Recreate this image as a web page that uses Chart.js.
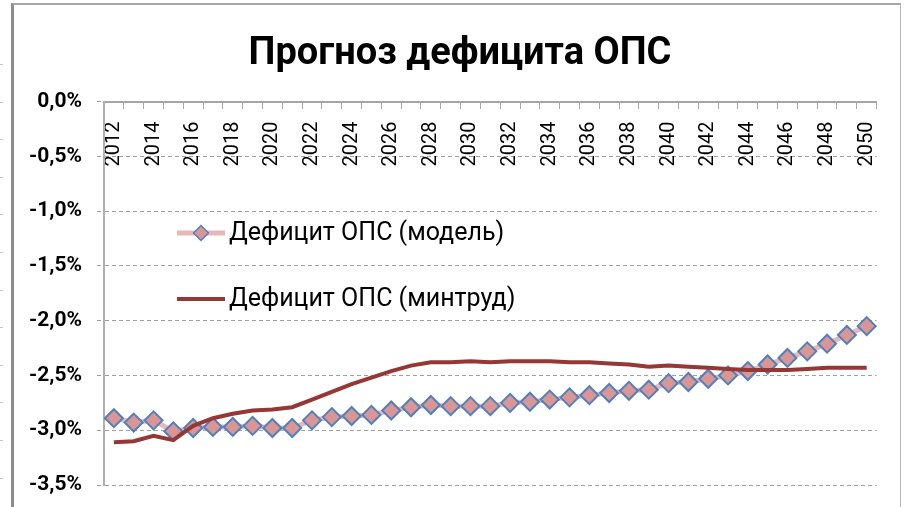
<!DOCTYPE html>
<html>
<head>
<meta charset="utf-8">
<script src="https://cdn.jsdelivr.net/npm/chart.js@4/dist/chart.umd.min.js"></script>
<style>
  html, body { margin: 0; padding: 0; background: #fff; }
  body { width: 905px; height: 507px; position: relative; overflow: hidden; }
  #frame {
    position: absolute; left: 11px; top: 3px; width: 886px; height: 520px;
    border-left: 3px solid #8c8c8c; border-top: 2px solid #a6a6a6; border-right: 1px solid #b8b8b8;
  }
  #rows {
    position: absolute; left: 0; top: 64px; width: 3px; height: 443px;
    background: repeating-linear-gradient(to bottom, #c8c8c8 0, #c8c8c8 1px, transparent 1px, transparent 37.6px);
  }
  #wrap { position: absolute; left: 0; top: 0; width: 905px; height: 507px; }
</style>
</head>
<body>
<div id="rows"></div>
<div id="frame"></div>
<div id="wrap"><canvas id="deficitChart"></canvas></div>
<script>
const years = [
    '2012', '2013', '2014', '2015', '2016', '2017', '2018', '2019', '2020', '2021',
    '2022', '2023', '2024', '2025', '2026', '2027', '2028', '2029', '2030', '2031',
    '2032', '2033', '2034', '2035', '2036', '2037', '2038', '2039', '2040', '2041',
    '2042', '2043', '2044', '2045', '2046', '2047', '2048', '2049', '2050'
];

// дефицит ОПС, % ВВП
const modelDeficit = [
    -2.89, -2.93, -2.91, -3.01, -2.98, -2.97, -2.97, -2.96, -2.98, -2.98,
    -2.91, -2.88, -2.87, -2.86, -2.82, -2.79, -2.77, -2.78, -2.78, -2.78,
    -2.75, -2.74, -2.72, -2.70, -2.68, -2.66, -2.64, -2.63, -2.57, -2.56,
    -2.53, -2.50, -2.46, -2.40, -2.34, -2.28, -2.21, -2.13, -2.05
];

const mintrudDeficit = [
    -3.11, -3.10, -3.05, -3.09, -2.96, -2.89, -2.85, -2.82, -2.81, -2.79,
    -2.72, -2.65, -2.58, -2.52, -2.46, -2.41, -2.38, -2.38, -2.37, -2.38,
    -2.37, -2.37, -2.37, -2.38, -2.38, -2.39, -2.40, -2.42, -2.41, -2.42,
    -2.43, -2.44, -2.45, -2.45, -2.45, -2.44, -2.43, -2.43, -2.43
];

const seriesNames = ['Дефицит ОПС (модель)', 'Дефицит ОПС (минтруд)'];
const yMin = -3.5;
const yMax = 0;
const yStep = 0.5;

const FONT = 'Roboto, "Noto Sans", sans-serif';

// заголовок в Excel чуть правее центра холста
const titleShift = {
    id: 'titleShift',
    afterLayout(chart) {
        if (chart.titleBlock) chart.titleBlock.left += 40;
    }
};

// легенда внутри области графика, как в Excel
const insideLegend = {
    id: 'insideLegend',
    afterDraw(chart) {
        const ctx = chart.ctx;
        const rows = [233, 299];
        chart.data.datasets.forEach((ds, i) => {
            const y = rows[i];
            ctx.save();
            ctx.strokeStyle = ds.borderColor;
            ctx.lineWidth = ds.borderWidth;
            ctx.beginPath();
            ctx.moveTo(177, y);
            ctx.lineTo(225, y);
            ctx.stroke();
            if (ds.pointRadius > 0) {
                const r = 7.5;
                ctx.beginPath();
                ctx.moveTo(201 - r, y);
                ctx.lineTo(201, y - r);
                ctx.lineTo(201 + r, y);
                ctx.lineTo(201, y + r);
                ctx.closePath();
                ctx.fillStyle = ds.pointBackgroundColor;
                ctx.fill();
                ctx.lineWidth = 1.5;
                ctx.strokeStyle = ds.pointBorderColor;
                ctx.stroke();
            }
            ctx.fillStyle = '#000';
            ctx.font = '25px ' + FONT;
            ctx.textBaseline = 'middle';
            ctx.textAlign = 'left';
            ctx.fillText(ds.label, 229, y + 1);
            ctx.restore();
        });
    }
};

const ctx = document.getElementById('deficitChart').getContext('2d');

new Chart(ctx, {
    type: 'line',
    data: {
        labels: years,
        datasets: [{
            label: seriesNames[0],
            data: modelDeficit,
            borderColor: '#E6B9B8',
            borderWidth: 5,
            pointStyle: 'rectRot',
            pointRadius: 9,
            pointBackgroundColor: '#D99694',
            pointBorderColor: '#4F81BD',
            pointBorderWidth: 2,
            tension: 0,
            order: 2
        }, {
            label: seriesNames[1],
            data: mintrudDeficit,
            borderColor: '#953735',
            borderWidth: 4,
            pointRadius: 0,
            tension: 0,
            order: 1
        }]
    },
    options: {
        responsive: true,
        maintainAspectRatio: false,
        animation: false,
        layout: {
            padding: { left: 0, right: 25, top: 0, bottom: 22 }
        },
        scales: {
            x: {
                position: { y: 0 },
                offset: true,
                grid: {
                    display: true,
                    drawOnChartArea: false,
                    drawTicks: true,
                    tickLength: 6,
                    offset: true,
                    color: '#a6a6a6'
                },
                border: { color: '#a6a6a6', width: 2 },
                ticks: {
                    autoSkip: false,
                    maxRotation: 90,
                    minRotation: 90,
                    padding: 14,
                    color: '#000',
                    font: { family: FONT, size: 20 },
                    callback: function (val, idx) {
                        return idx % 2 === 0 ? this.getLabelForValue(val) : '';
                    }
                }
            },
            y: {
                min: yMin,
                max: yMax,
                afterFit(scale) {
                    scale.width = 104;
                    // подписи не должны сдвигать область графика
                    scale.paddingTop = 0;
                    scale.paddingBottom = 0;
                },
                grid: {
                    color: '#a0a0a0',
                    lineWidth: 1,
                    tickLength: 7,
                    tickBorderDash: [4, 3]
                },
                border: { color: '#b0b0b0', width: 2, dash: [4, 3] },
                ticks: {
                    stepSize: yStep,
                    padding: 15,
                    color: '#000',
                    font: { family: FONT, size: 21, weight: 'bold' },
                    callback: v => v.toFixed(1).replace('.', ',') + '%'
                }
            }
        },
        plugins: {
            legend: { display: false },
            tooltip: { enabled: false },
            title: {
                display: true,
                text: 'Прогноз дефицита ОПС',
                color: '#000',
                font: { family: FONT, size: 38, weight: 'bold' },
                padding: { top: 32, bottom: 24 }
            }
        }
    },
    plugins: [titleShift, insideLegend]
});
</script>
</body>
</html>
